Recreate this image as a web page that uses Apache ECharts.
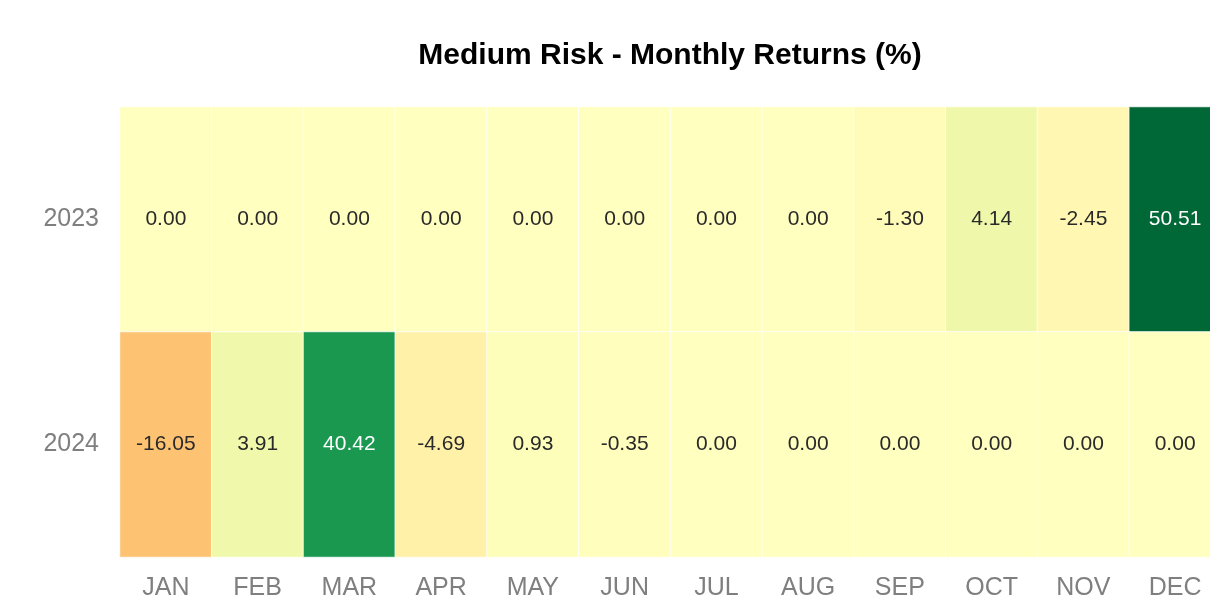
<!DOCTYPE html>
<html>
<head>
<meta charset="utf-8">
<script src="https://cdn.jsdelivr.net/npm/echarts@6/dist/echarts.min.js"></script>
<style>
  html, body { margin: 0; padding: 0; background: #fff; }
  #main { width: 1210px; height: 597px; }
</style>
</head>
<body>
<div id="main"></div>
<script>
var months = ['JAN', 'FEB', 'MAR', 'APR', 'MAY', 'JUN', 'JUL', 'AUG', 'SEP', 'OCT', 'NOV', 'DEC'];
var years = ['2023', '2024'];
var returns2023 = [0.00, 0.00, 0.00, 0.00, 0.00, 0.00, 0.00, 0.00, -1.30, 4.14, -2.45, 50.51];
var returns2024 = [-16.05, 3.91, 40.42, -4.69, 0.93, -0.35, 0.00, 0.00, 0.00, 0.00, 0.00, 0.00];

var myChart = echarts.init(document.getElementById('main'));

// build heatmap cells [month, year, value]
var rows = [returns2023, returns2024];
var data = [];
var maxAbs = 0;
rows.forEach(function (r, yi) {
    r.forEach(function (v, mi) {
        maxAbs = Math.max(maxAbs, Math.abs(v));
        data.push({
            value: [mi, yi, v],
            label: { color: Math.abs(v) > 30 ? '#ffffff' : '#2a2a2a' }
        });
    });
});

var option = {
    title: {
        text: 'Medium Risk - Monthly Returns (%)',
        left: 665,
        textAlign: 'center',
        top: 36,
        textStyle: { fontFamily: 'Liberation Sans', fontSize: 30, fontWeight: 'bold', color: '#000' }
    },
    grid: { left: 120, top: 107, width: 1101, height: 450, outerBoundsMode: 'none' },
    xAxis: {
        type: 'category',
        data: months,
        axisLine: { show: false },
        axisTick: { show: false },
        splitArea: { show: false },
        axisLabel: { fontFamily: 'Liberation Sans', fontSize: 25, color: '#7f7f7f', margin: 19 }
    },
    yAxis: {
        type: 'category',
        data: years,
        inverse: true,
        axisLine: { show: false },
        axisTick: { show: false },
        axisLabel: { fontFamily: 'Liberation Sans', fontSize: 25, color: '#7f7f7f', margin: 21 }
    },
    visualMap: {
        show: false,
        type: 'continuous',
        min: -maxAbs,
        max: maxAbs,
        dimension: 2,
        inRange: {
            color: ['#a50026', '#d73027', '#f46d43', '#fdae61', '#fee08b', '#ffffbf',
                    '#d9ef8b', '#a6d96a', '#66bd63', '#1a9850', '#006837']
        }
    },
    series: [{
        type: 'heatmap',
        data: data,
        itemStyle: { borderColor: 'rgba(255,255,255,0.8)', borderWidth: 1 },
        label: {
            show: true,
            fontFamily: 'Liberation Sans',
            fontSize: 21,
            formatter: function (p) { return p.value[2].toFixed(2); }
        },
        emphasis: { disabled: true }
    }]
};

myChart.setOption(option);
</script>
</body>
</html>
